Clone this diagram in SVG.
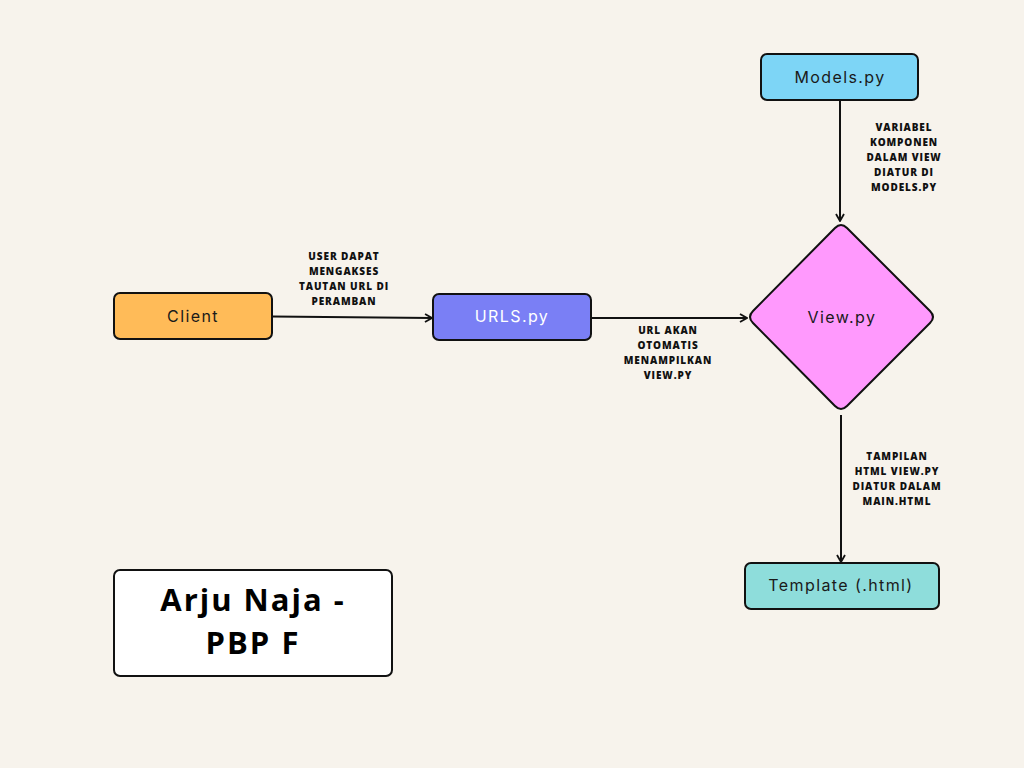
<svg xmlns="http://www.w3.org/2000/svg" width="1024" height="768" viewBox="0 0 1024 768">
<defs>
<marker id="arr" viewBox="0 0 10 10" refX="9" refY="5" markerWidth="10" markerHeight="10" markerUnits="userSpaceOnUse" orient="auto">
<path d="M2,1 L9,5 L2,9" fill="none" stroke="#111" stroke-width="1.8"/>
</marker>
<style>
.box{stroke:#111;stroke-width:2}
.nt{font-family:Inter,"Open Sans",sans-serif;font-size:16px;letter-spacing:1.4px;text-anchor:middle;dominant-baseline:central;fill:#1a1a1a}
.lb{font-family:"Open Sans","Liberation Sans",sans-serif;font-weight:800;font-size:10px;letter-spacing:0.9px;text-anchor:middle;fill:#111}
.conn{stroke:#111;stroke-width:2;fill:none;marker-end:url(#arr)}
</style>
</defs>
<rect width="1024" height="768" fill="#F7F3EC"/>
<g id="connectors">
<path class="conn" d="M272,316.5 L432,318"/>
<path class="conn" d="M591,318 L747,318"/>
<path class="conn" d="M840,100 L840,221"/>
<path class="conn" d="M841,415 L841,562"/>
</g>
<g id="labels">
<text class="lb" x="344" y="260">USER DAPAT</text>
<text class="lb" x="344" y="275">MENGAKSES</text>
<text class="lb" x="344" y="290">TAUTAN URL DI</text>
<text class="lb" x="344" y="305">PERAMBAN</text>
<text class="lb" x="668" y="334">URL AKAN</text>
<text class="lb" x="668" y="349">OTOMATIS</text>
<text class="lb" x="668" y="364">MENAMPILKAN</text>
<text class="lb" x="668" y="379">VIEW.PY</text>
<text class="lb" x="904" y="131">VARIABEL</text>
<text class="lb" x="904" y="146">KOMPONEN</text>
<text class="lb" x="904" y="161">DALAM VIEW</text>
<text class="lb" x="904" y="176">DIATUR DI</text>
<text class="lb" x="904" y="191">MODELS.PY</text>
<text class="lb" x="897" y="460">TAMPILAN</text>
<text class="lb" x="897" y="475">HTML VIEW.PY</text>
<text class="lb" x="897" y="490">DIATUR DALAM</text>
<text class="lb" x="897" y="505">MAIN.HTML</text>
</g>
<g id="client">
<rect class="box" x="114" y="293" width="158" height="46" rx="6" fill="#FFBB58"/>
<text class="nt" x="193" y="316">Client</text>
</g>
<g id="urls">
<rect class="box" x="433" y="294" width="158" height="46" rx="6" fill="#7A7FF5"/>
<text class="nt" x="512" y="316" style="fill:#fff">URLS.py</text>
</g>
<g id="models">
<rect class="box" x="761" y="54" width="157" height="46" rx="6" fill="#7DD5F6"/>
<text class="nt" x="840" y="77">Models.py</text>
</g>
<g id="view">
<path class="box" d="M835,228 Q841,222 847,228 L930,311 Q936,317 930,323 L847,406 Q841,412 835,406 L753,323 Q747,317 753,311 Z" fill="#FF99FD" stroke-linejoin="round"/>
<text class="nt" x="842" y="317">View.py</text>
</g>
<g id="template">
<rect class="box" x="745" y="563" width="194" height="46" rx="6" fill="#8EDDDB"/>
<text class="nt" x="841" y="585">Template (.html)</text>
</g>
<g id="author">
<rect class="box" x="114" y="570" width="278" height="106" rx="6" fill="#fff"/>
<text x="253" y="611" font-family="'Open Sans','Liberation Sans',sans-serif" font-weight="bold" font-size="31" letter-spacing="2" text-anchor="middle" fill="#000">Arju Naja -</text>
<text x="253" y="654" font-family="'Open Sans','Liberation Sans',sans-serif" font-weight="bold" font-size="31" letter-spacing="2" text-anchor="middle" fill="#000">PBP F</text>
</g>
</svg>
